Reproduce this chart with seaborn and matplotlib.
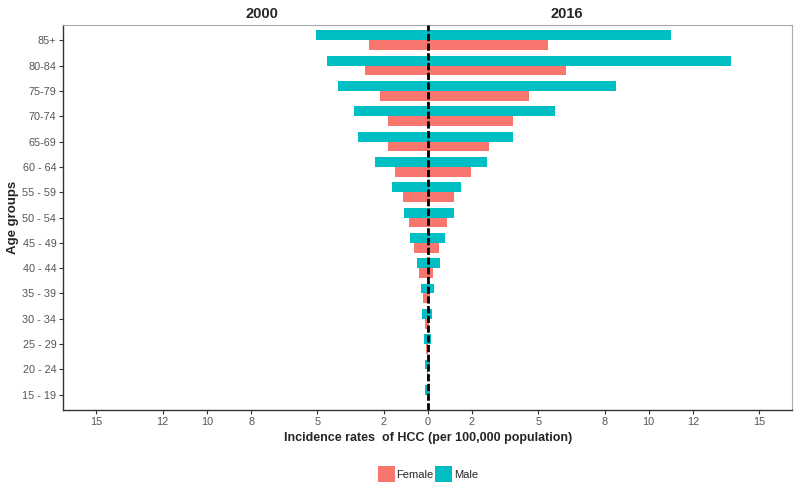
import matplotlib
matplotlib.use("Agg")
import matplotlib.pyplot as plt
from matplotlib.patches import Patch
import seaborn as sns
import pandas as pd

age_groups = ["85+", "80-84", "75-79", "70-74", "65-69", "60 - 64", "55 - 59",
              "50 - 54", "45 - 49", "40 - 44", "35 - 39", "30 - 34", "25 - 29",
              "20 - 24", "15 - 19"]
male_2000 = [5.08, 4.57, 4.05, 3.36, 3.17, 2.37, 1.64, 1.10, 0.80, 0.51, 0.33, 0.26, 0.17, 0.14, 0.14]
female_2000 = [2.67, 2.85, 2.15, 1.81, 1.79, 1.49, 1.11, 0.84, 0.62, 0.38, 0.21, 0.14, 0.06, 0.03, 0.01]
male_2016 = [11.01, 13.73, 8.54, 5.75, 3.85, 2.66, 1.52, 1.19, 0.76, 0.54, 0.29, 0.20, 0.13, 0.11, 0.11]
female_2016 = [5.43, 6.26, 4.60, 3.85, 2.79, 1.96, 1.19, 0.89, 0.50, 0.24, 0.09, 0.05, 0.02, 0.01, 0.0]
tick_values = [15, 12, 10, 8, 5, 2, 0, 2, 5, 8, 10, 12, 15]
tick_signs = [-1, -1, -1, -1, -1, -1, 0, 1, 1, 1, 1, 1, 1]

colors = {"Female": "#F8766D", "Male": "#00BFC4"}

rows = []
for i, g in enumerate(age_groups):
    rows.append(dict(age=g, sex="Male", year="2000", rate=-male_2000[i]))
    rows.append(dict(age=g, sex="Female", year="2000", rate=-female_2000[i]))
    rows.append(dict(age=g, sex="Male", year="2016", rate=male_2016[i]))
    rows.append(dict(age=g, sex="Female", year="2016", rate=female_2016[i]))
df = pd.DataFrame(rows)

sns.set_style("white")
plt.rcParams["font.family"] = ["Liberation Sans", "DejaVu Sans"]

fig = plt.figure(figsize=(8, 4.88), dpi=100)
ax = fig.add_axes([63.3 / 800, 1 - 410 / 488, (792.3 - 63.3) / 800, (410 - 25) / 488])

for yr in ["2000", "2016"]:
    sub = df[df.year == yr]
    sns.barplot(data=sub, x="rate", y="age", hue="sex", order=age_groups,
                hue_order=["Male", "Female"], palette=colors, orient="h",
                width=0.78, saturation=1, ax=ax, legend=False, errorbar=None,
                linewidth=0)

ax.axvline(0, color="black", lw=2, linestyle=(0, (2.6, 0.9)), zorder=5)

ax.set_xlim(-16.5, 16.5)
ax.set_ylim(len(age_groups) - 0.4, -0.6)
ticks = [s * v for s, v in zip(tick_signs, tick_values)]
ax.set_xticks(ticks)
ax.set_xticklabels([str(v) for v in tick_values])
ax.tick_params(axis="both", labelsize=7.8, labelcolor="#555555", color="#333333",
               length=3, width=0.8, direction="out", left=True, bottom=True, pad=2)
ax.set_xlabel("Incidence rates  of HCC (per 100,000 population)", fontsize=9,
              fontweight="bold", labelpad=4)
ax.set_ylabel("Age groups", fontsize=9.5, fontweight="bold")
ax.yaxis.set_label_coords((19 - 63.3) / 729, 0.5)

for side in ["left", "bottom"]:
    ax.spines[side].set_color("#333333")
    ax.spines[side].set_linewidth(1)
for side in ["top", "right"]:
    ax.spines[side].set_color("#aaaaaa")
    ax.spines[side].set_linewidth(0.8)

ax.text(-7.5, -0.75, "2000", ha="center", va="bottom", fontsize=10.5, fontweight="bold")
ax.text(6.3, -0.75, "2016", ha="center", va="bottom", fontsize=10.5, fontweight="bold")

handles = [Patch(facecolor=colors["Female"], edgecolor="none", label="Female"),
           Patch(facecolor=colors["Male"], edgecolor="none", label="Male")]
fig.legend(handles=handles, loc="center", bbox_to_anchor=(428 / 800, 1 - 474 / 488),
           ncol=2, frameon=False, fontsize=8, handlelength=1.5, handleheight=1.8,
           handletextpad=0.15, columnspacing=0.15, borderpad=0.2)

fig.savefig("out.png", dpi=100)
